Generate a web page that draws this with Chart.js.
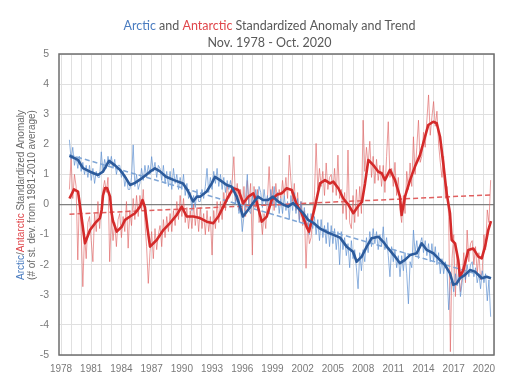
<!DOCTYPE html>
<html><head><meta charset="utf-8">
<script src="https://cdn.jsdelivr.net/npm/chart.js@4.4.1/dist/chart.umd.min.js"></script>
<style>html,body{margin:0;padding:0;background:#fff;overflow:hidden}#wrap{width:510px;height:382px}</style>
</head><body><div id="wrap"><canvas id="c" width="510" height="382"></canvas></div>
<script>
// Monthly-ish raw anomalies, every 2 months starting Nov 1978
const rawStartYear = 1978 + 10 / 12;
const arcRaw = [
2.15,1.5,1.9,1.3,1.6,1.2,
1.6,1.1,1.4,1.0,1.3,0.9,
1.3,0.8,1.2,0.7,1.1,0.9,
0.9,1.75,1.1,1.5,1.2,1.6,
1.3,1.6,1.2,1.5,1.0,1.3,
1.3,0.9,1.1,0.6,0.9,0.5,
0.5,0.9,1.98,0.6,1.0,0.5,
0.7,1.2,0.8,1.3,0.9,1.3,
1.0,1.59,1.1,1.4,0.9,1.3,
1.2,0.8,1.3,0.7,1.1,0.6,
1.1,0.5,1.2,0.7,1.0,0.5,
0.9,0.5,1.0,0.3,0.7,0.2,
0.4,-0.2,0.3,-0.1,0.5,0.1,
0.1,0.5,0.2,0.6,1.2,0.4,
0.9,0.5,1.1,0.7,1.2,0.6,
1.0,0.5,0.9,0.4,0.8,0.5,
0.8,0.4,0.6,0.0,0.3,-0.3,
-0.1,-0.9,-0.4,0.2,1.0,-0.2,
-0.3,0.3,-0.1,0.5,0.0,0.6,
0.4,-0.1,0.5,0.0,0.3,-0.3,
0.5,0.0,0.6,-0.1,0.4,-0.3,
0.2,-0.3,0.3,-0.2,0.1,-0.5,
0.3,-0.2,0.4,-0.3,0.2,-0.6,
0.1,-0.5,-0.1,-0.7,-0.3,-1.0,
-0.3,-0.8,-0.4,-1.0,-0.5,-1.2,
-0.5,-1.1,-0.7,-1.3,-0.6,-1.4,
-0.7,-1.3,-0.8,-1.5,-0.9,-2.0,
-0.9,-1.5,-1.1,-1.7,-1.3,-2.1,
-1.2,-1.8,-1.5,-2.1,-2.8,-1.6,
-2.2,-1.5,-1.9,-1.1,-1.6,-0.9,
-1.4,-0.8,-1.3,-0.9,-1.5,-1.0,
-1.4,-0.74,-1.5,-1.1,-1.7,-2.4,
-1.4,-1.9,-1.5,-2.1,-1.7,-2.4,
-1.7,-2.2,-1.6,-2.3,-3.3,-1.9,
-2.1,-0.85,-1.6,-1.2,-1.8,-1.3,
-1.1,-1.6,-1.2,-1.7,-1.3,-1.9,
-1.3,-1.9,-1.4,-2.0,-1.6,-2.3,
-1.8,-2.3,-1.9,-2.2,-3.5,-2.6,
-2.5,-2.9,-2.3,-2.7,-2.2,-3.06,
-2.6,-2.1,-2.5,-2.0,-2.4,-2.0,
-1.9,-2.4,-2.1,-2.6,-2.3,-2.8,
-2.2,-2.6,-2.3,-3.2,-2.5,-3.73
];
const antRaw = [
0.5,1.54,0.2,1.0,0.6,-1.84,
0.3,-0.9,-2.73,-1.0,-1.8,-0.6,
-0.4,-1.2,-1.9,-0.3,-0.9,0.1,
-0.8,-0.1,0.5,0.8,0.4,0.9,
-1.9,-0.4,-1.2,-0.6,-1.4,-0.5,
-0.3,-1.1,-0.4,-0.9,0.1,-1.45,
-0.2,-0.7,0.2,-0.5,0.3,-0.4,
0.3,-0.2,0.5,-0.6,-1.4,-2.62,
-1.6,-0.9,-1.8,-0.8,-1.5,-1.0,
-0.7,-1.4,-0.5,-1.1,-0.4,-0.9,
-0.3,-0.9,-0.2,-0.7,0.1,-0.5,
0.3,-0.4,0.2,-0.6,-0.1,-0.8,
-0.2,-0.8,0.0,-0.7,-0.1,-0.9,
-0.1,-0.8,-0.3,-1.0,-0.2,-0.9,
-0.4,-1.68,-0.2,-0.8,0.1,-0.6,
0.1,-0.5,0.4,-0.2,0.7,0.2,
0.3,0.8,1.59,0.1,0.7,-0.2,
0.5,-0.3,0.6,-0.4,0.8,0.0,
0.7,-1.68,0.6,-0.1,0.5,-0.6,
-0.4,-1.0,-0.3,-0.8,0.2,1.26,
0.0,0.6,-0.2,0.7,0.1,0.5,
0.2,0.8,0.3,0.9,0.2,1.64,
0.8,0.1,0.7,-0.2,0.4,-0.5,
0.1,-0.7,-0.2,-2.12,-0.6,-1.3,
-1.1,-0.4,0.3,2.03,0.5,1.2,
0.6,1.1,0.3,1.38,0.5,0.9,
1.0,0.4,1.2,0.3,1.64,0.2,
0.5,-0.3,0.4,-0.5,1.81,-0.6,
-0.8,0.3,-0.6,0.5,-0.4,0.6,
-0.3,2.8,1.1,1.9,1.3,2.1,
0.9,1.6,0.7,1.5,0.8,1.3,
0.6,1.3,0.4,1.6,2.75,0.9,
1.2,0.6,1.4,0.3,0.9,-0.2,
-0.6,0.3,-0.3,1.1,0.5,1.38,
0.6,2.25,1.0,1.9,2.8,1.4,
1.6,2.4,1.9,2.8,3.64,2.3,
2.9,3.42,2.6,3.1,2.0,1.4,
0.9,1.6,0.2,0.6,-0.4,-4.89,
-1.8,-1.0,-3.06,-1.6,-2.3,-2.9,
-2.4,-1.6,-2.6,-0.85,-1.9,-1.3,
-1.2,-2.0,-1.4,-2.3,-1.6,-2.5,
-2.2,-1.0,-1.5,-0.18,-0.6,0.81
];
// 12-month running means (read at turning points)
const arcSmYears = [1978.84,1979.69,1980.18,1980.88,1981.67,1982.17,1982.77,1983.36,1983.86,1984.36,1984.85,1985.35,1985.94,1986.84,1987.33,1987.83,1988.43,1989.22,1990.12,1990.61,1991.11,1991.5,1991.8,1992.47,1992.97,1993.29,1993.79,1994.45,1994.95,1995.45,1995.78,1996.07,1996.57,1997.07,1997.56,1998.06,1998.56,1999.05,1999.55,2000.05,2000.55,2001.04,2001.54,2002.03,2002.53,2003.02,2003.72,2004.42,2005.01,2005.71,2006.37,2007.0,2007.36,2007.86,2008.36,2008.85,2009.51,2010.0,2010.5,2011.17,2011.66,2012.16,2012.66,2013.32,2013.82,2014.32,2014.97,2015.47,2016.13,2016.63,2016.96,2017.3,2017.62,2018.12,2018.62,2019.11,2019.78,2020.27,2020.7];
const arcSm = [1.62,1.48,1.21,1.09,0.98,1.09,1.45,1.3,1.15,0.92,0.65,0.72,0.85,1.09,1.2,1.1,0.92,0.81,0.7,0.45,0.1,0.26,0.26,0.43,0.7,0.92,0.81,0.65,0.59,0.26,-0.07,-0.4,-0.18,0.05,0.26,0.15,0.15,0.26,0.1,0.0,-0.07,0.05,-0.12,-0.28,-0.51,-0.6,-0.8,-0.92,-1.0,-1.1,-1.4,-1.57,-1.9,-1.73,-1.4,-1.12,-1.07,-1.24,-1.46,-1.73,-1.95,-1.84,-1.68,-1.62,-1.29,-1.51,-1.62,-1.79,-2.01,-2.29,-2.67,-2.62,-2.45,-2.34,-2.18,-2.23,-2.45,-2.4,-2.45];
const antSmYears = [1978.84,1979.29,1979.69,1979.99,1980.38,1980.88,1981.38,1981.87,1982.04,1982.17,1982.37,1982.57,1982.87,1983.03,1983.16,1983.53,1984.03,1984.36,1984.85,1985.35,1985.85,1986.09,1986.34,1986.59,1986.84,1987.5,1988.16,1988.82,1989.49,1989.99,1990.48,1991.14,1991.8,1992.47,1993.12,1993.62,1994.12,1994.61,1995.11,1995.61,1996.1,1996.6,1997.1,1997.43,1997.93,1998.43,1998.92,1999.42,1999.92,2000.41,2000.91,2001.41,2001.9,2002.4,2002.63,2003.22,2003.72,2004.22,2004.71,2005.04,2005.54,2006.03,2006.53,2007.03,2007.52,2007.89,2008.19,2008.52,2009.01,2009.51,2009.85,2010.17,2010.67,2011.17,2011.66,2011.83,2012.16,2012.66,2013.15,2013.65,2014.15,2014.47,2014.97,2015.31,2015.64,2015.96,2016.3,2016.63,2016.8,2017.13,2017.45,2017.62,2017.95,2018.45,2018.94,2019.44,2019.78,2020.11,2020.43,2020.7];
const antSm = [0.2,0.5,0.43,-0.3,-1.29,-0.85,-0.62,-0.45,-0.18,0.3,0.55,0.55,0.26,-0.3,-0.55,-0.9,-0.74,-0.51,-0.4,-0.29,-0.07,0.15,-0.1,-0.8,-1.4,-1.18,-0.85,-0.62,-0.35,-0.07,-0.4,-0.4,-0.45,-0.57,-0.62,-0.4,-0.07,0.26,0.54,0.48,0.04,0.26,0.37,0.09,-0.57,-0.4,0.15,0.32,0.37,0.54,0.48,0.0,-0.29,-0.75,-0.9,-0.07,0.7,0.81,0.7,0.76,0.54,0.2,0.0,-0.29,-0.05,0.09,0.7,1.48,1.31,1.09,1.04,0.81,1.15,0.81,0.26,-0.35,0.26,0.81,1.26,1.64,2.25,2.64,2.75,2.7,2.25,1.37,0.37,-0.29,-1.18,-1.29,-1.84,-2.4,-2.18,-1.51,-1.46,-1.73,-1.79,-1.4,-0.85,-0.55];
// Linear trends (end points)
const trendYears = [1978.84, 2020.7];
const arcTrend = [1.65, -2.45];
const antTrend = [-0.32, 0.32];
// Axis ticks
const yTicks = [-5,-4,-3,-2,-1,0,1,2,3,4,5];
const xLabelYears = [1978,1981,1984,1987,1990,1993,1996,1999,2002,2005,2008,2011,2014,2017,2020];

const rawYears = arcRaw.map((_, i) => rawStartYear + i / 6);
const pts = (xs, ys) => ys.map((v, i) => ({x: xs[i], y: v}));

const GRAY = '#595959';
const decor = {
  id: 'decor',
  afterDraw(chart) {
    const {ctx, chartArea: a} = chart;
    ctx.save();
    ctx.strokeStyle = '#6e6e6e';
    ctx.lineWidth = 1.5;
    ctx.strokeRect(a.left, a.top, a.right - a.left, a.bottom - a.top);
    // title
    const segs = [['Arctic', '#4a7cc0'], [' and ', GRAY], ['Antarctic', '#e0474c'], [' Standardized Anomaly and Trend', GRAY]];
    ctx.font = '12.5px Lato, "Open Sans", sans-serif';
    ctx.textBaseline = 'middle';
    ctx.textAlign = 'left';
    let w = segs.reduce((s, g) => s + ctx.measureText(g[0]).width, 0);
    let x = 269.5 - w / 2;
    for (const [t, c] of segs) { ctx.fillStyle = c; ctx.fillText(t, x, 26); x += ctx.measureText(t).width; }
    ctx.fillStyle = GRAY;
    ctx.textAlign = 'center';
    ctx.fillText('Nov. 1978 - Oct. 2020', 269.5, 43);
    // y title
    ctx.save();
    ctx.translate(21, 195);
    ctx.rotate(-Math.PI / 2);
    ctx.font = '10px "Liberation Sans", Arial, sans-serif';
    const ys = [['Arctic', '#4a7cc0'], ['/', '#6a6a6a'], ['Antarctic', '#e0474c'], [' Standardized Anomaly', '#6a6a6a']];
    w = ys.reduce((s, g) => s + ctx.measureText(g[0]).width, 0);
    x = -w / 2;
    ctx.textAlign = 'left';
    for (const [t, c] of ys) { ctx.fillStyle = c; ctx.fillText(t, x, 0); x += ctx.measureText(t).width; }
    ctx.textAlign = 'center';
    ctx.fillStyle = '#6a6a6a';
    ctx.fillText('(# of st. dev. from 1981-2010 average)', 0, 11);
    ctx.restore();
    ctx.restore();
  }
};

new Chart(document.getElementById('c'), {
  type: 'line',
  data: {
    datasets: [
      {data: pts(arcSmYears, arcSm), borderColor: '#2c5b9c', borderWidth: 2.6},
      {data: pts(antSmYears, antSm), borderColor: '#d42a2a', borderWidth: 2.6},
      {data: pts(trendYears, arcTrend), borderColor: '#7fa6d6', borderWidth: 1.5, borderDash: [5, 3]},
      {data: pts(trendYears, antTrend), borderColor: '#e06060', borderWidth: 1.5, borderDash: [5, 3]},
      {data: pts(rawYears, arcRaw), borderColor: 'rgba(95,145,210,0.7)', borderWidth: 1},
      {data: pts(rawYears, antRaw), borderColor: 'rgba(222,95,95,0.62)', borderWidth: 1}
    ]
  },
  options: {
    responsive: false,
    animation: false,
    devicePixelRatio: 1,
    parsing: true,
    elements: {point: {radius: 0}, line: {tension: 0, fill: false, borderJoinStyle: 'round'}},
    layout: {padding: {top: 54, right: 16, bottom: 0, left: 0}},
    plugins: {legend: {display: false}, title: {display: false}, tooltip: {enabled: false}},
    scales: {
      x: {
        type: 'linear', min: 1977.8, max: 2021.0,
        afterFit: s => { s.height = 27; },
        border: {display: false},
        grid: {color: '#e0e0e0', drawTicks: false},
        ticks: {
          stepSize: 1, includeBounds: false, autoSkip: false, maxRotation: 0, padding: 8,
          color: '#7a7a7a', font: {family: '"Liberation Sans", Arial, sans-serif', size: 10},
          callback: v => xLabelYears.includes(v) ? String(v) : ''
        }
      },
      y: {
        min: yTicks[0], max: yTicks[yTicks.length - 1],
        afterFit: s => { s.width = 59; },
        border: {display: false},
        grid: {color: c => c.tick.value === 0 ? '#808080' : '#e0e0e0', lineWidth: c => c.tick.value === 0 ? 1.3 : 1, drawTicks: false},
        ticks: {stepSize: 1, padding: 10, color: '#7a7a7a', font: {family: '"Liberation Sans", Arial, sans-serif', size: 10.5}}
      }
    }
  },
  plugins: [decor]
});
</script></body></html>
